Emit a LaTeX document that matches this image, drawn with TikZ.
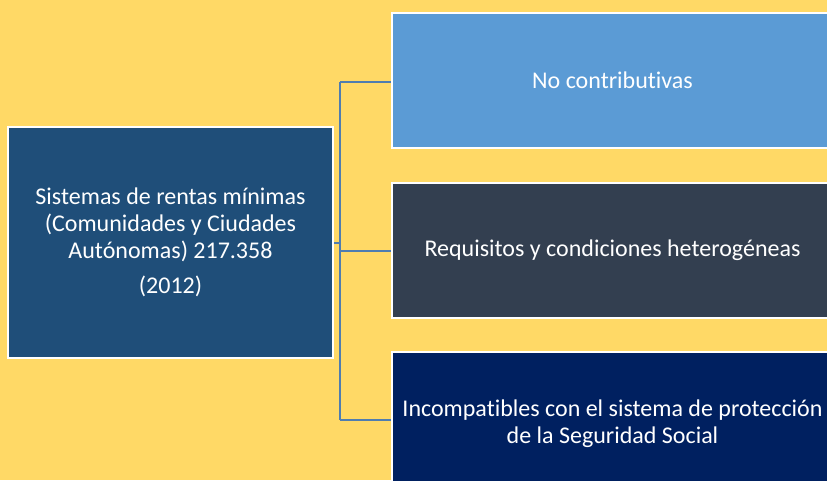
\documentclass[tikz,border=0pt]{standalone}
\usepackage{fontspec}
\setmainfont{Carlito}[RawFeature={-liga;-calt;-clig;-dlig}]
\definecolor{bgyellow}{HTML}{FFD966}
\definecolor{leftblue}{HTML}{1F4E79}
\definecolor{lightblue}{HTML}{5B9BD5}
\definecolor{darkgray}{HTML}{333F50}
\definecolor{navy}{HTML}{002060}
\definecolor{linkblue}{HTML}{4F7DB0}
\begin{document}
\begin{tikzpicture}[x=1pt,y=-1pt,
  box/.style={draw=white, line width=2pt, text=white, align=center, inner sep=0pt,
    font=\fontsize{24}{27}\selectfont},
  link/.style={draw=linkblue, line width=2pt}]
\useasboundingbox (0,0) rectangle (827,480);
\clip (0,0) rectangle (827,480);
\fill[bgyellow] (0,0) rectangle (827,480);
\node[box, fill=leftblue, minimum width=325pt, minimum height=231pt] (left) at (170.5,242.5)
  {Sistemas de rentas mínimas\\(Comunidades y Ciudades\\Autónomas) 217.358\\[8pt](2012)};
\node[box, fill=lightblue, minimum width=441pt, minimum height=135pt] (top) at (612.5,80.5)
  {No contributivas};
\node[box, fill=darkgray, minimum width=441pt, minimum height=135pt] (mid) at (612.5,250.5)
  {Requisitos y condiciones heterogéneas};
\node[box, fill=navy, minimum width=441pt, minimum height=144pt] (bot) at (612.5,424)
  {Incompatibles con el sistema de protección\\de la Seguridad Social};
\coordinate (jt) at (340,82);
\coordinate (jb) at (340,420);
\draw[link] (left.east) -- (left.east -| jt);
\draw[link] (jt) -- (jb);
\draw[link] (jt) -- (jt -| top.west);
\draw[link] (jb |- mid.west) -- (mid.west);
\draw[link] (jb) -- (jb -| bot.west);
\end{tikzpicture}
\end{document}
